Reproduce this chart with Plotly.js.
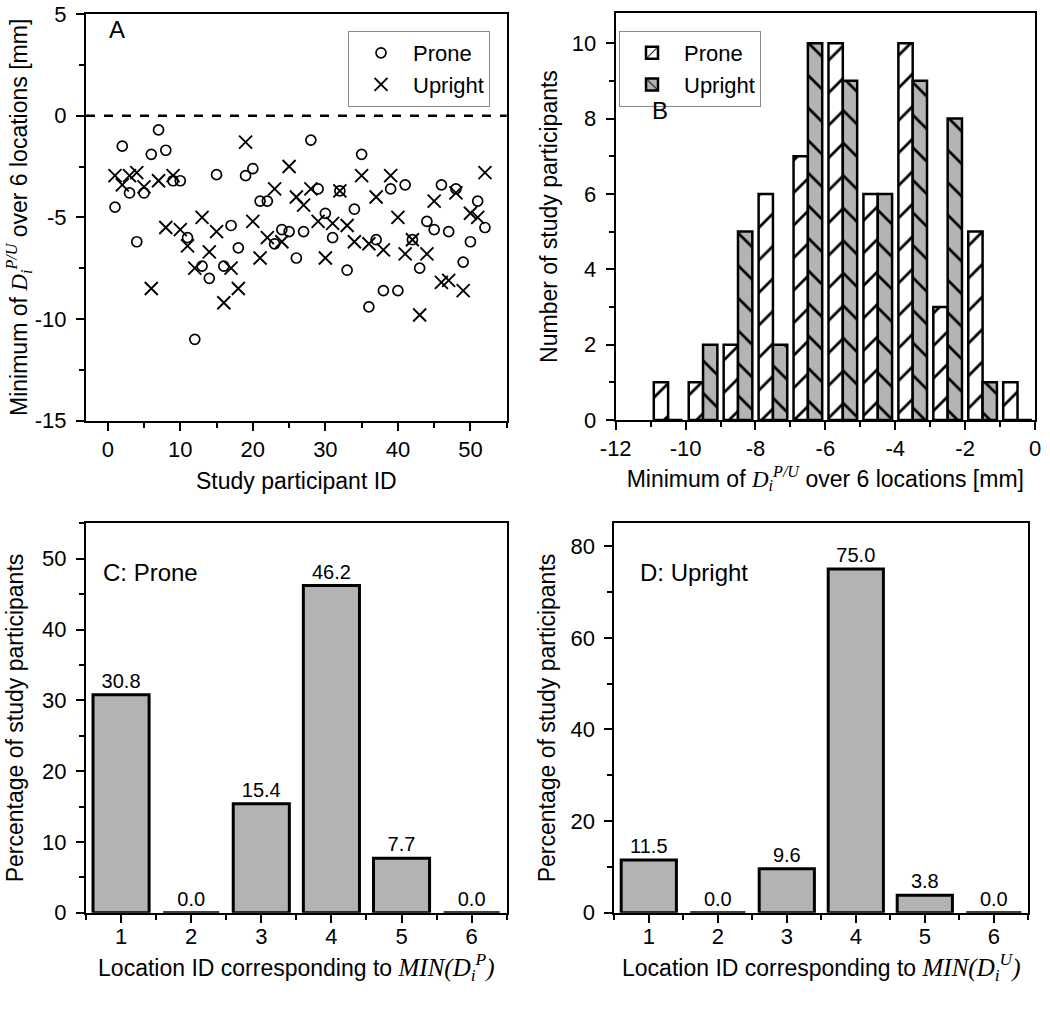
<!DOCTYPE html>
<html>
<head>
<meta charset="utf-8">
<script src="https://cdn.plot.ly/plotly-3.0.1.min.js"></script>
<style>html,body{margin:0;padding:0;background:#fff;}#chart{width:1050px;height:1018px;}</style>
</head>
<body>
<div id="chart"></div>
<script>
// ---- Panel A data: minimum of D over 6 locations, per participant ----
const participantIds = [1,2,3,4,5,6,7,8,9,10,11,12,13,14,15,16,17,18,19,20,21,22,23,24,25,26,27,28,29,30,31,32,33,34,35,36,37,38,39,40,41,42,43,44,45,46,47,48,49,50,51,52];
const proneMin = [-4.5,-1.5,-3.8,-6.2,-3.8,-1.9,-0.7,-1.7,-3.2,-3.2,-6.0,-11.0,-7.4,-8.0,-2.9,-7.4,-5.4,-6.5,-2.95,-2.6,-4.2,-4.2,-6.3,-5.6,-5.7,-7.0,-5.7,-1.2,-3.6,-4.8,-6.0,-3.7,-7.6,-4.6,-1.9,-9.4,-6.1,-8.6,-3.6,-8.6,-3.4,-6.1,-7.5,-5.2,-5.6,-3.4,-5.7,-3.6,-7.2,-6.2,-4.2,-5.5];
const uprightMin = [-2.95,-3.4,-2.95,-2.8,-3.5,-8.5,-3.2,-5.5,-2.95,-5.6,-6.4,-7.5,-5.0,-6.7,-5.7,-9.2,-7.5,-8.5,-1.3,-5.2,-7.0,-6.0,-3.6,-6.2,-2.5,-4.0,-4.4,-3.6,-5.2,-7.0,-5.3,-3.7,-5.4,-6.2,-2.95,-6.3,-4.0,-6.6,-2.95,-5.0,-6.8,-6.1,-9.8,-6.8,-4.2,-8.2,-8.1,-3.8,-8.6,-4.8,-5.0,-2.8];

// ---- Panel B data: histogram counts (bins of 1 mm) ----
const binCenters = [-10.5,-9.5,-8.5,-7.5,-6.5,-5.5,-4.5,-3.5,-2.5,-1.5,-0.5];
const proneCounts = [1,1,2,6,7,10,6,10,3,5,1];
const uprightCounts = [0,2,5,2,10,9,6,9,8,1,0];

// ---- Panels C & D data: percentage by location ID ----
const locationIds = [1,2,3,4,5,6];
const pronePct = [30.8,0.0,15.4,46.2,7.7,0.0];
const uprightPct = [11.5,0.0,9.6,75.0,3.8,0.0];

// ---- tick labels ----
const aXTicks = [0,10,20,30,40,50];
const aYTicks = [-15,-10,-5,0,5];
const aYTickText = ['-15','-10','-5','0','5'];
const bXTicks = [-12,-10,-8,-6,-4,-2,0];
const bXTickText = ['-12','-10','-8','-6','-4','-2','0'];
const bYTicks = [0,2,4,6,8,10];
const cYTicks = [0,10,20,30,40,50];
const dYTicks = [0,20,40,60,80];

const FONT = 'Liberation Sans, Arial, Helvetica, sans-serif';
const SERIF = 'Liberation Serif';
const W = 1050, H = 1018;
const px = v => v / W;
const py = v => 1 - v / H;
const TICK = 22, TITLE = 23;

function Dsym(sup){
  return '<span style="font-family:' + SERIF + ';font-style:italic">D<sub>i</sub><sup>' + sup + '</sup></span>';
}

function mainAxis(o){
  const a = {
    showline:true, linecolor:'black', linewidth:2, mirror:true,
    ticks:'outside', ticklen:8, tickwidth:2, tickcolor:'black',
    showgrid:false, zeroline:false,
    tickfont:{family:FONT, size:TICK, color:'black'},
    fixedrange:true
  };
  return Object.assign(a, o);
}
function mirrorAxis(o){
  const a = {
    showline:false, ticks:'inside', ticklen:8, tickwidth:2, tickcolor:'black',
    showgrid:false, zeroline:false, showticklabels:false, fixedrange:true,
    tickfont:{family:FONT, size:TICK, color:'black'}
  };
  return Object.assign(a, o);
}
function titleObj(text, standoff){
  return {text:text, font:{family:FONT, size:TITLE, color:'black'}, standoff:standoff};
}

const traces = [
  // Panel A
  {type:'scatter', mode:'markers', x:participantIds, y:proneMin, name:'Prone', xaxis:'x', yaxis:'y', legend:'legend',
   marker:{symbol:'circle-open', size:10, color:'black', line:{width:1.7, color:'black'}}, cliponaxis:false},
  {type:'scatter', mode:'markers', x:participantIds, y:uprightMin, name:'Upright', xaxis:'x', yaxis:'y', legend:'legend',
   marker:{symbol:'x-thin-open', size:13, color:'black', line:{width:1.9, color:'black'}}, cliponaxis:false},
  // Panel B
  {type:'bar', x:binCenters, y:proneCounts, name:'Prone', xaxis:'x2', yaxis:'y2', legend:'legend2',
   marker:{color:'white', line:{color:'black', width:2.5},
     pattern:{shape:'/', fgcolor:'black', bgcolor:'white', size:23, solidity:0.12, fillmode:'replace'}}},
  {type:'bar', x:binCenters, y:uprightCounts, name:'Upright', xaxis:'x2', yaxis:'y2', legend:'legend2',
   marker:{color:'#b4b4b4', line:{color:'black', width:2.5},
     pattern:{shape:'\\', fgcolor:'black', bgcolor:'#b4b4b4', size:23, solidity:0.12, fillmode:'replace'}}},
  // Panel C
  {type:'bar', x:locationIds, y:pronePct, width:0.8, xaxis:'x3', yaxis:'y3', showlegend:false,
   marker:{color:'#b3b3b3', line:{color:'black', width:3}},
   texttemplate:'%{y:.1f}', textposition:'outside', cliponaxis:false,
   textfont:{family:FONT, size:20, color:'black'}},
  // Panel D
  {type:'bar', x:locationIds, y:uprightPct, width:0.8, xaxis:'x4', yaxis:'y4', showlegend:false,
   marker:{color:'#b3b3b3', line:{color:'black', width:3}},
   texttemplate:'%{y:.1f}', textposition:'outside', cliponaxis:false,
   textfont:{family:FONT, size:20, color:'black'}}
];

const domA_x = [px(86), px(506.7)], domA_y = [py(420.7), py(14)];
const domB_x = [px(615.7), px(1035)], domB_y = [py(420), py(13)];
const domC_x = [px(86), px(506.7)], domC_y = [py(912.7), py(523.3)];
const domD_x = [px(614.3), px(1028.3)], domD_y = [py(912.7), py(523.3)];

const minorOut = (dtick, tick0) => ({dtick:dtick, tick0:tick0, ticks:'outside', ticklen:5, tickwidth:2, tickcolor:'black'});
const minorIn = (dtick, tick0) => ({dtick:dtick, tick0:tick0, ticks:'inside', ticklen:5, tickwidth:2, tickcolor:'black'});
const YSTAND = 5;

const layout = {
  width:W, height:H,
  margin:{l:0, r:0, t:0, b:0},
  paper_bgcolor:'white', plot_bgcolor:'white',
  font:{family:FONT, color:'black', size:TICK},
  barmode:'group', bargap:0.18, bargroupgap:0,
  // Panel A axes
  xaxis: mainAxis({domain:domA_x, anchor:'y', range:[-3,55], tickvals:aXTicks, minor:minorOut(5,0),
    title:titleObj('Study participant ID', 12)}),
  yaxis: mainAxis({domain:domA_y, anchor:'x', range:[-15,5], tickvals:aYTicks, ticktext:aYTickText, minor:minorOut(2.5,0),
    ticklabelstandoff:YSTAND, title:titleObj('Minimum of ' + Dsym('P/U') + ' over 6 locations [mm]', 1)}),
  xaxis5: mirrorAxis({overlaying:'x', side:'top', anchor:'y', range:[-3,55], tickvals:aXTicks, minor:minorIn(5,0)}),
  yaxis5: mirrorAxis({overlaying:'y', side:'right', anchor:'x', range:[-15,5], tickvals:aYTicks, minor:minorIn(2.5,0)}),
  // Panel B axes
  xaxis2: mainAxis({domain:domB_x, anchor:'y2', range:[-12,0], tickvals:bXTicks, ticktext:bXTickText, minor:minorOut(1,0),
    title:titleObj('Minimum of ' + Dsym('P/U') + ' over 6 locations [mm]', 10)}),
  yaxis2: mainAxis({domain:domB_y, anchor:'x2', range:[0,10.8], tickvals:bYTicks, minor:minorOut(1,0),
    ticklabelstandoff:YSTAND, title:titleObj('Number of study participants', 8)}),
  xaxis6: mirrorAxis({overlaying:'x2', side:'top', anchor:'y2', range:[-12,0], tickvals:bXTicks, minor:minorIn(1,0)}),
  yaxis6: mirrorAxis({overlaying:'y2', side:'right', anchor:'x2', range:[0,10.8], tickvals:bYTicks, minor:minorIn(1,0)}),
  // Panel C axes
  xaxis3: mainAxis({domain:domC_x, anchor:'y3', range:[0.5,6.5], tickvals:locationIds, minor:minorOut(1,0.5),
    ticklabelstandoff:-5,
    title:titleObj('Location ID corresponding to <span style="font-family:' + SERIF + ';font-style:italic;font-size:25px">MIN(D<sub>i</sub><sup>P</sup>)</span>', 6)}),
  yaxis3: mainAxis({domain:domC_y, anchor:'x3', range:[0,55], tickvals:cYTicks, minor:minorOut(5,0),
    ticklabelstandoff:YSTAND, title:titleObj('Percentage of study participants', 12)}),
  xaxis7: mirrorAxis({overlaying:'x3', side:'top', anchor:'y3', range:[0.5,6.5], tickvals:locationIds, minor:minorIn(1,0.5)}),
  yaxis7: mirrorAxis({overlaying:'y3', side:'right', anchor:'x3', range:[0,55], tickvals:cYTicks, minor:minorIn(5,0)}),
  // Panel D axes
  xaxis4: mainAxis({domain:domD_x, anchor:'y4', range:[0.5,6.5], tickvals:locationIds, minor:minorOut(1,0.5),
    ticklabelstandoff:-5,
    title:titleObj('Location ID corresponding to <span style="font-family:' + SERIF + ';font-style:italic;font-size:25px">MIN(D<sub>i</sub><sup>U</sup>)</span>', 6)}),
  yaxis4: mainAxis({domain:domD_y, anchor:'x4', range:[0,85], tickvals:dYTicks, minor:minorOut(10,0),
    ticklabelstandoff:YSTAND, title:titleObj('Percentage of study participants', 8)}),
  xaxis8: mirrorAxis({overlaying:'x4', side:'top', anchor:'y4', range:[0.5,6.5], tickvals:locationIds, minor:minorIn(1,0.5)}),
  yaxis8: mirrorAxis({overlaying:'y4', side:'right', anchor:'x4', range:[0,85], tickvals:dYTicks, minor:minorIn(10,0)}),
  legend:{x:px(348), y:py(31), xanchor:'left', yanchor:'top', bgcolor:'white',
    bordercolor:'#8a8a8a', borderwidth:1, font:{family:FONT, size:22, color:'black'},
    tracegroupgap:0, itemwidth:54},
  legend2:{x:px(619), y:py(31), xanchor:'left', yanchor:'top', bgcolor:'white',
    bordercolor:'#8a8a8a', borderwidth:1, font:{family:FONT, size:22, color:'black'},
    tracegroupgap:0, itemwidth:54},
  shapes:[
    {type:'line', xref:'x domain', yref:'y', x0:0, x1:1, y0:0, y1:0,
     line:{color:'black', width:2.5, dash:'dash'}}
  ],
  annotations:[
    {text:'A', xref:'paper', yref:'paper', x:px(107), y:py(30), xanchor:'left', yanchor:'middle', showarrow:false,
     font:{family:FONT, size:24, color:'black'}},
    {text:'B', xref:'paper', yref:'paper', x:px(660), y:py(110), xanchor:'center', yanchor:'middle', showarrow:false,
     font:{family:FONT, size:24, color:'black'}},
    {text:'C: Prone', xref:'paper', yref:'paper', x:px(101), y:py(572), xanchor:'left', yanchor:'middle', showarrow:false,
     font:{family:FONT, size:24, color:'black'}},
    {text:'D: Upright', xref:'paper', yref:'paper', x:px(638), y:py(572), xanchor:'left', yanchor:'middle', showarrow:false,
     font:{family:FONT, size:24, color:'black'}}
  ]
};

Plotly.newPlot('chart', traces, layout, {staticPlot:true, displayModeBar:false});
</script>
</body>
</html>
